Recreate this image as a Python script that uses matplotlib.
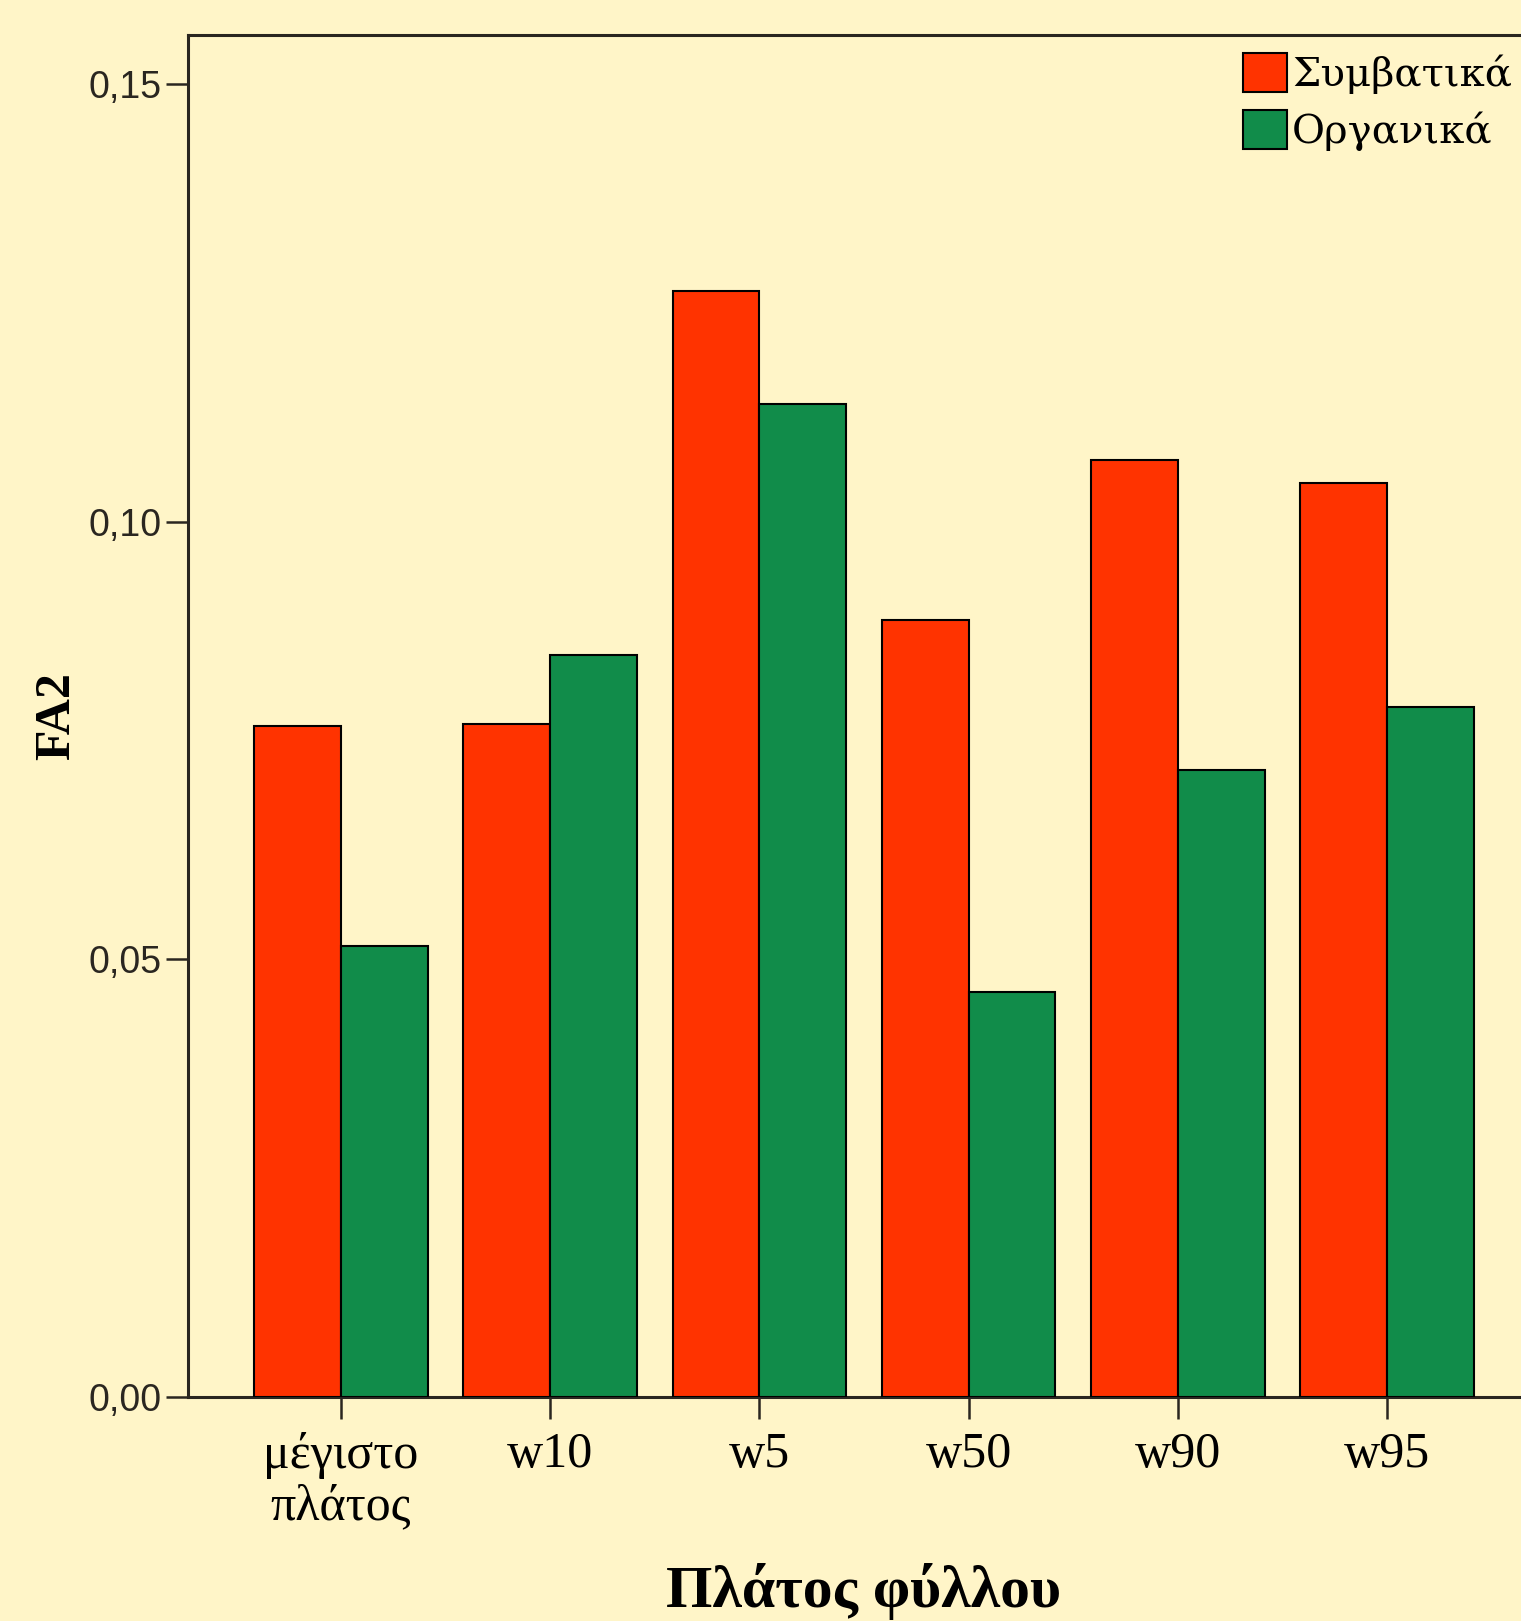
import matplotlib
matplotlib.use("Agg")
import matplotlib.pyplot as plt
import numpy as np
from matplotlib.patches import Patch

categories = ["μέγιστο\nπλάτος", "w10", "w5", "w50", "w90", "w95"]
conventional = [0.0767, 0.0769, 0.1264, 0.0888, 0.1070, 0.1044]
organic = [0.0515, 0.0848, 0.1134, 0.0463, 0.0716, 0.0788]
series_names = ["Συμβατικά", "Οργανικά"]
yticks = [0.00, 0.05, 0.10, 0.15]
ytick_labels = ["0,00", "0,05", "0,10", "0,15"]

bg = "#FFF5C8"
red = "#FF3300"
green = "#118C4A"
dark = "#2a2620"

W, H = 1521, 1621
fig = plt.figure(figsize=(W / 100, H / 100), dpi=100, facecolor=bg)
ax = fig.add_axes([188 / W, (H - 1397) / H, (1540 - 188) / W, (1397 - 35) / H])
ax.set_facecolor(bg)

x = np.arange(len(categories))
bw = 0.415
ax.bar(x - bw / 2, conventional, bw, color=red, edgecolor="black", linewidth=1.5, zorder=3)
ax.bar(x + bw / 2, organic, bw, color=green, edgecolor="black", linewidth=1.5, zorder=3)

ax.set_xlim(-0.73, len(categories) - 1 + 0.73)
ax.set_ylim(0, 0.1556)

ax.spines["right"].set_visible(False)
for s in ["left", "top", "bottom"]:
    ax.spines[s].set_color(dark)
    ax.spines[s].set_linewidth(2.2)

ax.set_yticks(yticks)
ax.set_yticklabels(ytick_labels, fontfamily=["Liberation Sans Narrow", "Liberation Sans"], fontsize=27, color=dark)
ax.set_xticks(x)
ax.set_xticklabels(categories, fontfamily="Liberation Serif", fontsize=36, color="black", linespacing=1.15)
ax.tick_params(axis="y", direction="out", length=16, width=1.8, color=dark, pad=3)
ax.tick_params(axis="x", direction="out", length=16, width=1.8, color=dark, pad=9)

ax.set_ylabel("FA2", fontfamily="Liberation Serif", fontweight="bold", fontsize=36, va="center")
ax.yaxis.set_label_coords((57 - 188) / 1352, 0.5)
ax.set_xlabel("Πλάτος φύλλου", fontfamily="Liberation Serif", fontweight="bold", fontsize=43, va="center")
ax.xaxis.set_label_coords(0.5, (1397 - 1592) / 1362)

handles = [Patch(facecolor=red, edgecolor="black", linewidth=1.5),
           Patch(facecolor=green, edgecolor="black", linewidth=1.5)]
leg = fig.legend(handles, series_names, loc="upper left", bbox_to_anchor=(1243 / W, 1 - 53 / H),
                 frameon=False, borderpad=0, borderaxespad=0, handlelength=1.1, handleheight=1.1,
                 handletextpad=0.12, labelspacing=0.4,
                 prop={"family": "DejaVu Serif", "size": 29})

fig.savefig("out.png", dpi=100, facecolor=bg)
